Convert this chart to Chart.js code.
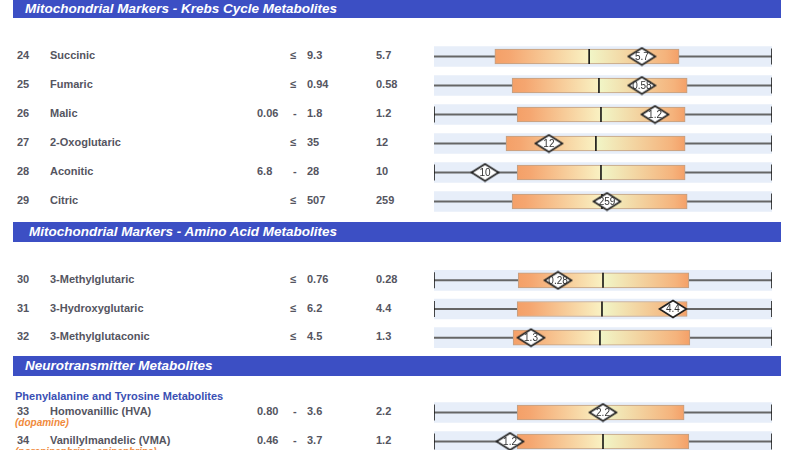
<!DOCTYPE html>
<html><head><meta charset="utf-8">
<script src="https://cdn.jsdelivr.net/npm/chart.js@4.4.1/dist/chart.umd.min.js"></script>
<style>
body{margin:0;background:#fff;}
#page{position:relative;width:800px;height:450px;overflow:hidden;font-family:"Liberation Sans",Arial,sans-serif;background:#fff;}
.hdr{position:absolute;left:13px;width:768px;background:#3c4fc4;color:#fff;font-weight:bold;font-style:italic;font-size:13.5px;padding-left:12px;box-sizing:border-box;white-space:nowrap;}
.cell{position:absolute;font-size:11px;font-weight:bold;color:#55555f;line-height:14px;white-space:nowrap;}
.sub{position:absolute;left:15px;font-size:11px;font-weight:bold;color:#3a4fb4;line-height:14px;white-space:nowrap;}
.note{position:absolute;left:15px;font-size:10px;font-weight:bold;font-style:italic;color:#f08a3c;line-height:12px;white-space:nowrap;}
canvas{position:absolute;}
</style></head><body><div id="page"></div>
<script>
// ---- data ----
const ids = [24,25,26,27,28,29,30,31,32,33,34];
const names = ['Succinic','Fumaric','Malic','2-Oxoglutaric','Aconitic','Citric','3-Methylglutaric','3-Hydroxyglutaric','3-Methylglutaconic','Homovanillic (HVA)','Vanillylmandelic (VMA)'];
const refLow = [null,null,'0.06',null,'6.8',null,null,null,null,'0.80','0.46'];
const refHigh = ['9.3','0.94','1.8','35','28','507','0.76','6.2','4.5','3.6','3.7'];
const results = ['5.7','0.58','1.2','12','10','259','0.28','4.4','1.3','2.2','1.2'];
// positions on the normalized 0-100 reference scale
const boxLow = [18.0,23.1,24.6,21.3,24.6,23.1,24.9,24.6,23.4,24.6,24.6];
const boxHigh = [72.5,74.9,74.3,74.3,74.3,74.9,75.4,74.9,75.7,74.0,75.4];
const medians = [45.9,48.8,49.4,47.9,49.4,49.7,50.0,49.7,49.1,49.7,50.0];
const markerPos = [61.5,61.5,65.4,34.0,15.1,51.2,36.7,70.7,28.7,50.0,22.5];
const leftCap = [false,false,true,false,true,false,true,true,false,true,true];
const notes = [null,null,null,null,null,null,null,null,null,'(dopamine)','(norepinephrine, epinephrine)'];
const sectionTitles = ['Mitochondrial Markers - Krebs Cycle Metabolites','Mitochondrial Markers - Amino Acid Metabolites','Neurotransmitter Metabolites'];
const sectionRows = [[0,1,2,3,4,5],[6,7,8],[9,10]];
const subTitle = 'Phenylalanine and Tyrosine Metabolites';

// ---- layout ----
const hdrTop = [0,221.5,356], hdrH = [18,20,20], hdrPad = [12,16,12];
const chTop = [42,266,398], chH = [174,86,58];
const chLeft = 420, chW = 370, padL = 14, padR = 18;

const page = document.getElementById('page');
function addDiv(cls, text, css){ const d=document.createElement('div'); d.className=cls; d.textContent=text; Object.assign(d.style,css); page.appendChild(d); return d; }

sectionTitles.forEach((t,s)=>{
  addDiv('hdr', t, {top:hdrTop[s]+'px', height:hdrH[s]+'px', lineHeight:hdrH[s]+'px', paddingLeft:hdrPad[s]+'px'});
});
addDiv('sub', subTitle, {top:(396-7)+'px'});

// diamond marker image
const dia = document.createElement('canvas');
dia.width = 30; dia.height = 20;
(function(){ const c=dia.getContext('2d'); c.beginPath(); c.moveTo(1.5,10); c.lineTo(15,1.5); c.lineTo(28.5,10); c.lineTo(15,18.5); c.closePath(); c.fillStyle='#fff'; c.fill(); c.lineWidth=1.8; c.strokeStyle='#222'; c.stroke(); })();

const labelPlugin = {
  id:'diaLabels',
  afterDatasetsDraw(chart){
    const meta = chart.getDatasetMeta(5);
    const ctx = chart.ctx;
    ctx.save();
    ctx.font = '10px "Liberation Sans", Arial, sans-serif';
    ctx.fillStyle = '#333';
    ctx.textAlign = 'center'; ctx.textBaseline = 'middle';
    meta.data.forEach((el,i)=>{ ctx.fillText(chart.data.datasets[5].data[i].txt, el.x, el.y+0.5); });
    ctx.restore();
  }
};

sectionRows.forEach((rows,s)=>{
  const pitch = chH[s]/rows.length;
  rows.forEach((r,k)=>{
    const cy = chTop[s] + (k+0.5)*pitch - 1.5;
    const top = (cy-7)+'px';
    addDiv('cell', String(ids[r]), {left:'17px', top});
    addDiv('cell', names[r], {left:'50px', top});
    if (refLow[r]) { addDiv('cell', refLow[r], {left:'257px', top}); addDiv('cell', '-', {left:'293px', top}); }
    else addDiv('cell', '≤', {left:'290px', top});
    addDiv('cell', refHigh[r], {left:'307px', top});
    addDiv('cell', results[r], {left:'376px', top});
    if (notes[r]) addDiv('note', notes[r], {left:'15px', top:(cy+6)+'px'});
  });

  const cv = document.createElement('canvas');
  cv.width = chW; cv.height = chH[s];
  cv.style.left = chLeft+'px'; cv.style.top = chTop[s]+'px';
  page.appendChild(cv);
  const labels = rows.map(r=>String(ids[r]));
  const bl = rows.map(r=>boxLow[r]), bh = rows.map(r=>boxHigh[r]), md = rows.map(r=>medians[r]);
  const caps = [];
  rows.forEach(r=>{ caps.push({x:100,y:String(ids[r])}); if(leftCap[r]) caps.push({x:0,y:String(ids[r])}); });

  new Chart(cv, {
    type:'bar',
    data:{
      labels,
      datasets:[
        {type:'bar', indexAxis:'y', data:rows.map(()=>[0,100]), backgroundColor:'#e7eef9', barThickness:20, grouped:false, order:6},
        {type:'bar', indexAxis:'y', data:rows.map(()=>[0,100]), backgroundColor:'#666666', barThickness:1.4, grouped:false, order:5},
        {type:'bar', indexAxis:'y', data:rows.map(r=>[boxLow[r],boxHigh[r]]), grouped:false, barThickness:15, order:4,
          borderColor:'#c0a085', borderWidth:1, borderSkipped:false,
          backgroundColor:(c)=>{
            const ch=c.chart; if(!ch.chartArea) return '#f5a870';
            const i=c.dataIndex, xs=ch.scales.x;
            const x0=xs.getPixelForValue(bl[i]), x1=xs.getPixelForValue(bh[i]), xm=xs.getPixelForValue(md[i]);
            const m=Math.min(0.99,Math.max(0.01,(xm-x0)/(x1-x0)));
            const g=ch.ctx.createLinearGradient(x0,0,x1,0);
            g.addColorStop(0,'#f4a068'); g.addColorStop(m*0.15,'#f5a670');
            g.addColorStop(m-0.005,'#f9f1c2'); g.addColorStop(m+0.005,'#f1f5c6');
            g.addColorStop(m+(1-m)*0.85,'#f5b37c'); g.addColorStop(1,'#f4a068');
            return g;
          }},
        {type:'scatter', data:rows.map(r=>({x:medians[r], y:String(ids[r])})), pointStyle:'line', rotation:90, radius:7.5, borderColor:'#111', borderWidth:1.6, order:3},
        {type:'scatter', data:caps, pointStyle:'line', rotation:90, radius:8, borderColor:'#1a1a1a', borderWidth:1.6, order:2},
        {type:'scatter', data:rows.map(r=>({x:markerPos[r], y:String(ids[r]), txt:results[r]})), pointStyle:dia, radius:10, order:1}
      ]
    },
    options:{
      responsive:false, animation:false, devicePixelRatio:1,
      layout:{autoPadding:false, padding:{left:padL,right:padR,top:0,bottom:0}},
      plugins:{legend:{display:false}, tooltip:{enabled:false}},
      scales:{
        x:{type:'linear', min:0, max:100, offset:false, display:false},
        y:{type:'category', labels, offset:true, display:false}
      }
    },
    plugins:[labelPlugin]
  });
});
</script></body></html>
